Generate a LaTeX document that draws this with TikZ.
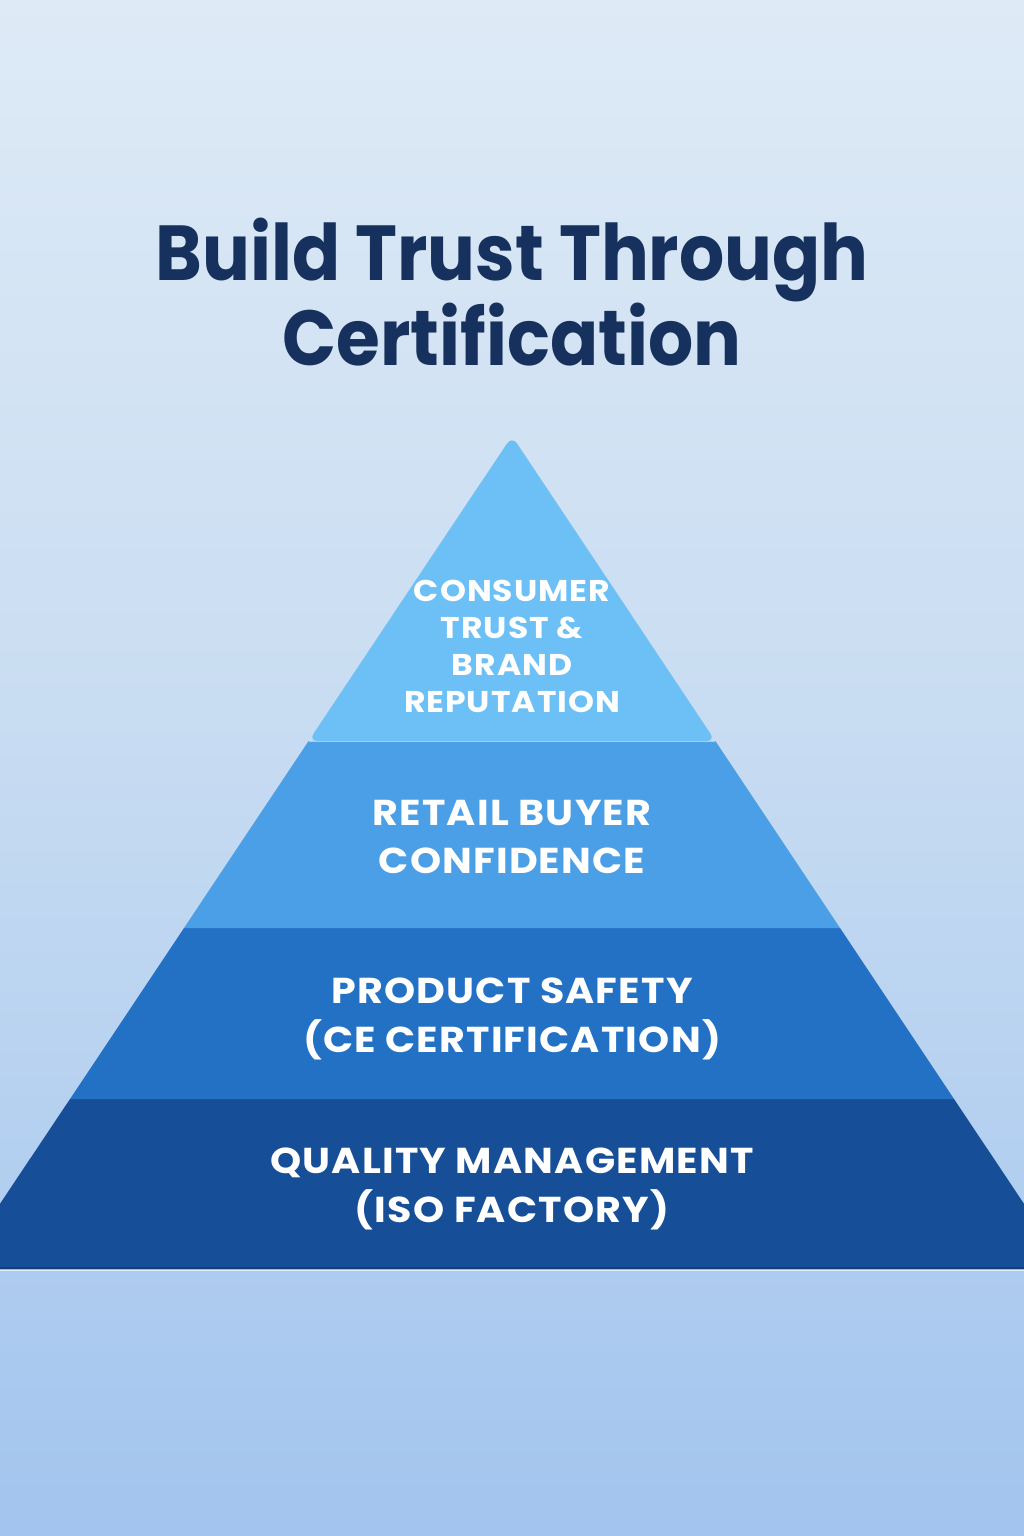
\documentclass[tikz,border=0pt]{standalone}
\usepackage{fontspec}
\setmainfont{Poppins}
\newcommand\widen[1]{\scalebox{1.1}[1]{#1}}
\newcommand\narrow[1]{\scalebox{0.91}[1]{#1}}
\begin{document}
\begin{tikzpicture}[x=1pt,y=-1pt,
  tiertext/.style={text=white,align=center,inner sep=0pt},
  titletext/.style={text=titleblue,align=center,inner sep=0pt,font=\bfseries\fontsize{78}{85}\selectfont}]
\definecolor{bgtop}{HTML}{DEEAF6}
\definecolor{bgmid}{HTML}{C9DDF2}
\definecolor{bgbot}{HTML}{A2C4EE}
\definecolor{tierA}{HTML}{6DC0F6}
\definecolor{tierB}{HTML}{4A9FE6}
\definecolor{tierC}{HTML}{2271C5}
\definecolor{tierD}{HTML}{164E98}
\definecolor{titleblue}{HTML}{17315E}
\useasboundingbox (0,0) rectangle (1024,1536);
\shade[top color=bgtop,bottom color=bgmid] (0,0) rectangle (1024,700);
\shade[top color=bgmid,bottom color=bgbot] (0,700) rectangle (1024,1536);
\begin{scope}
\clip (0,0) rectangle (1024,1536);
\fill[tierD] (70,1099) -- (954,1099) -- (1067.6,1269) -- (-43.6,1269) -- cycle;
\fill[tierC] (184,928) -- (840,928) -- (954,1099) -- (70,1099) -- cycle;
\fill[tierB] (308.6,741) -- (715.4,741) -- (840,928) -- (184,928) -- cycle;
\fill[tierA,rounded corners=9pt] (308.6,741) -- (512,436) -- (715.4,741) -- cycle;
\draw[tierD!80!black,line width=1.2pt] (0,1268) -- (1024,1268);
\draw[white!70!bgbot,line width=1pt] (0,1270.5) -- (1024,1270.5);
\draw[tierA!70!white,line width=0.8pt] (308.6,741) -- (715.4,741);
\end{scope}
\node[titletext] (title) at (512,292) {\narrow{Build Trust Through}\\\narrow{Certification}};
\node[tiertext,font=\bfseries\addfontfeature{LetterSpace=3}\fontsize{30}{37}\selectfont] (consumer) at (512,646) {\widen{CONSUMER}\\\widen{TRUST \&}\\\widen{BRAND}\\\widen{REPUTATION}};
\node[tiertext,font=\bfseries\addfontfeature{LetterSpace=3}\fontsize{36}{48}\selectfont] (retail) at (512,837) {\widen{RETAIL BUYER}\\\widen{CONFIDENCE}};
\node[tiertext,font=\bfseries\addfontfeature{LetterSpace=3}\fontsize{36}{49}\selectfont] (safety) at (512,1019) {\widen{PRODUCT SAFETY}\\\widen{(CE CERTIFICATION)}};
\node[tiertext,font=\bfseries\addfontfeature{LetterSpace=3}\fontsize{36}{49}\selectfont] (quality) at (512,1189) {\widen{QUALITY MANAGEMENT}\\\widen{(ISO FACTORY)}};
\end{tikzpicture}
\end{document}
